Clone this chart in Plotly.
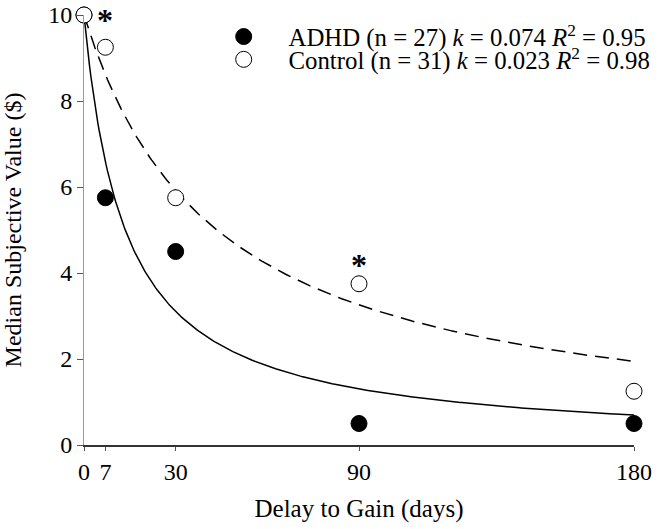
import numpy as np
import plotly.graph_objects as go

delays = [0, 7, 30, 90, 180]
adhd_values = [10, 5.75, 4.5, 0.5, 0.5]
control_values = [10, 9.25, 5.75, 3.75, 1.25]
k_adhd = 0.074
k_control = 0.023
amount = 10
x_ticks = [0, 7, 30, 90, 180]
y_ticks = [0, 2, 4, 6, 8, 10]
star_delays = [7, 90]
star_values = [10, 4.3]

D = np.linspace(0, 180, 400)
fit_adhd = amount / (1 + k_adhd * D)
fit_control = amount / (1 + k_control * D)

FONT = "Times New Roman, Liberation Serif, Times, serif"
PAD = "&nbsp;&nbsp;&nbsp;&nbsp;"

fig = go.Figure()
fig.add_trace(go.Scatter(x=D, y=fit_adhd, mode="lines", line=dict(color="black", width=1.5),
                         showlegend=False, hoverinfo="skip"))
fig.add_trace(go.Scatter(x=D, y=fit_control, mode="lines",
                         line=dict(color="black", width=1.5, dash="14px,8px"),
                         showlegend=False, hoverinfo="skip"))
fig.add_trace(go.Scatter(x=delays, y=adhd_values, mode="markers",
                         marker=dict(size=16, color="black", line=dict(color="black", width=1)),
                         name=PAD + "ADHD (n = 27) <i>k</i> = 0.074 <i>R</i><sup>2</sup> = 0.95",
                         cliponaxis=False, legend="legend"))
fig.add_trace(go.Scatter(x=delays, y=control_values, mode="markers",
                         marker=dict(size=16, color="white", line=dict(color="black", width=1)),
                         name=PAD + "Control (n = 31) <i>k</i> = 0.023 <i>R</i><sup>2</sup> = 0.98",
                         cliponaxis=False, legend="legend2"))

for sx, sy in zip(star_delays, star_values):
    fig.add_annotation(x=sx, y=sy, text="<b>*</b>", showarrow=False,
                       font=dict(size=32, family=FONT, color="black"), yshift=-5)

leg_common = dict(xanchor="left", yanchor="middle", bgcolor="rgba(0,0,0,0)",
                  font=dict(size=24.8, family=FONT, color="black"), itemsizing="trace")

fig.update_layout(
    width=659, height=529,
    margin=dict(l=84, r=25, t=15, b=84, autoexpand=False),
    paper_bgcolor="white", plot_bgcolor="white",
    font=dict(family=FONT, size=24, color="black"),
    legend=dict(x=0.254, y=0.949, **leg_common),
    legend2=dict(x=0.254, y=0.896, **leg_common),
    xaxis=dict(range=[0, 180], tickvals=x_ticks, ticktext=[str(t) for t in x_ticks],
               showgrid=False, zeroline=False, showline=True, linecolor="#333", linewidth=1.5,
               ticks="outside", ticklen=4, tickcolor="#555", automargin=False,
               ticklabeloverflow="allow",
               title=dict(text="Delay to Gain (days)", font=dict(size=25), standoff=16),
               tickfont=dict(size=24)),
    yaxis=dict(range=[0, 10], tickvals=y_ticks, showgrid=False, zeroline=False,
               showline=True, linecolor="#999", linewidth=1, automargin=False,
               ticklabeloverflow="allow",
               ticks="outside", ticklen=6, tickcolor="#555",
               title=dict(text="Median Subjective Value ($)", font=dict(size=24), standoff=19),
               tickfont=dict(size=24)),
)

fig.write_html("out.html", config={"displayModeBar": False},
               post_script="document.body.style.margin='0';")
